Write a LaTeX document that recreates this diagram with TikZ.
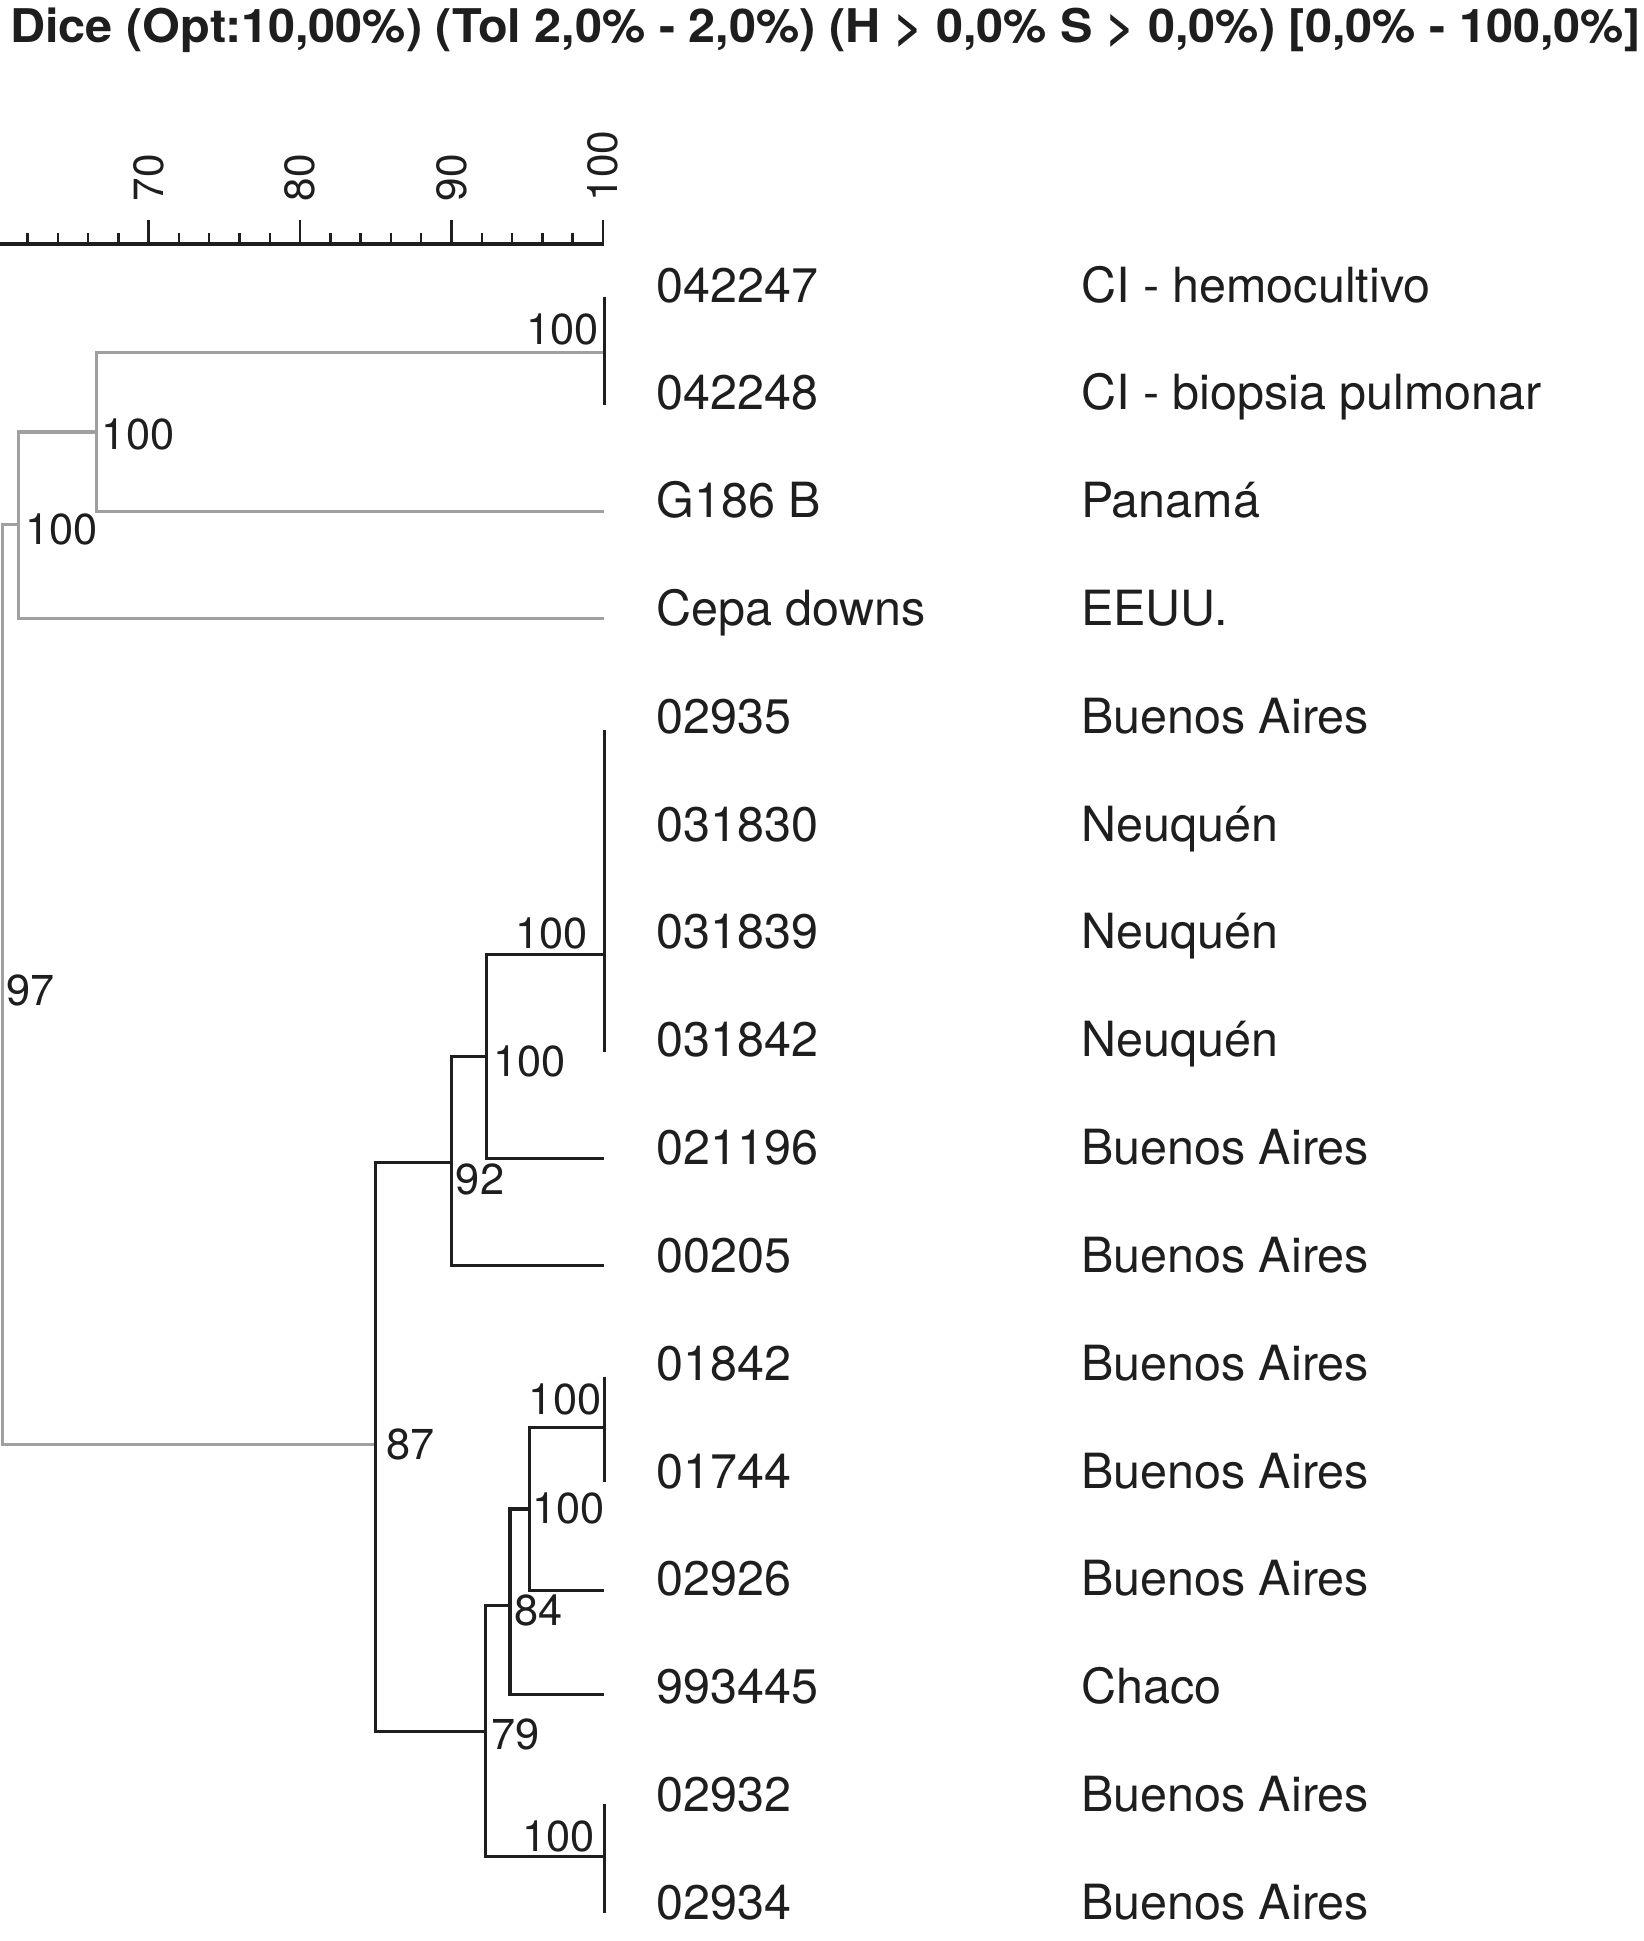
\documentclass[tikz,border=0pt]{standalone}
\usepackage{fontspec}
\setmainfont{TeX Gyre Heros}
\usepackage{graphicx}
\definecolor{treegray}{RGB}{160,160,160}
\definecolor{ink}{RGB}{30,30,30}
\begin{document}
\begin{tikzpicture}[x=0.6pt,y=-0.6pt,
  edge/.style={line width=1.5pt, draw=ink},
  gedge/.style={line width=1.5pt, draw=treegray},
  leaf/.style={anchor=base west, inner sep=0pt, font=\fontsize{23.5}{28}\selectfont, text=ink},
  boot/.style={inner sep=0pt, font=\fontsize{21}{25}\selectfont, text=ink},
  ticklab/.style={rotate=90, anchor=west, inner sep=0pt, font=\fontsize{20.5}{24}\selectfont, text=ink},
  axisline/.style={line width=1.6pt, draw=ink},
  tickline/.style={line width=1.2pt, draw=ink}]

\useasboundingbox (0,0) rectangle (1328,1568);

% title
\node[anchor=base west, inner sep=0pt, text=ink] (title) at (8,34)
  {\resizebox{790pt}{\height}{\fontsize{22.5}{27}\selectfont\bfseries Dice (Opt:10,00\%) (Tol 2,0\% - 2,0\%) (H > 0,0\% S > 0,0\%) [0,0\% - 100,0\%]}};

% scale axis
\coordinate (ax0) at (0,197);
\coordinate (ax1) at (488,197);
\draw[axisline] (ax0) -- (ax1);
\foreach \v in {62,64,66,68,72,74,76,78,82,84,86,88,92,94,96,98}
  \draw[tickline] ({487-(100-\v)*12.23},197) -- ++(0,-9);
\foreach \v in {70,80,90,100}{
  \draw[tickline] ({487-(100-\v)*12.23},197) -- ++(0,-19);
  \node[ticklab] (t\v) at ({487-(100-\v)*12.23},163) {\v};
}

% leaf labels
\foreach \i/\id/\place in {0/042247/CI - hemocultivo, 1/042248/CI - biopsia pulmonar,
  2/G186 B/Panamá, 3/Cepa downs/EEUU., 4/02935/Buenos Aires, 5/031830/Neuquén,
  6/031839/Neuquén, 7/031842/Neuquén, 8/021196/Buenos Aires, 9/00205/Buenos Aires,
  10/01842/Buenos Aires, 11/01744/Buenos Aires, 12/02926/Buenos Aires,
  13/993445/Chaco, 14/02932/Buenos Aires, 15/02934/Buenos Aires}{
  \node[leaf] (id\i) at (530,{244+87.1*\i}) {\id};
  \node[leaf] (pl\i) at (873,{244+87.1*\i}) {\place};
}

% tree coordinates
\coordinate (a1t) at (488,240); \coordinate (a1b) at (488,327); \coordinate (a1) at (488,285);
\coordinate (a2) at (78,349);   \coordinate (lg186) at (488,413);
\coordinate (a3) at (15,424);   \coordinate (lcepa) at (488,500);
\coordinate (r) at (2,796);
\coordinate (b1t) at (488,590); \coordinate (b1b) at (488,850); \coordinate (b1) at (488,771);
\coordinate (b2) at (393,853.5); \coordinate (l021196) at (488,936);
\coordinate (b3) at (365,939);  \coordinate (l00205) at (488,1022);
\coordinate (b4) at (303,1167);
\coordinate (c1t) at (488,1112); \coordinate (c1b) at (488,1197); \coordinate (c1) at (488,1153);
\coordinate (c2) at (428,1219); \coordinate (l02926) at (488,1285);
\coordinate (c3) at (412,1297); \coordinate (lchaco) at (488,1369);
\coordinate (c4) at (392,1399);
\coordinate (c5t) at (488,1457); \coordinate (c5b) at (488,1545); \coordinate (c5) at (488,1500);

% gray cluster
\draw[gedge] (a1) -| (a2) |- (lg186);
\draw[gedge] (a2) -| (a3) |- (lcepa);
\draw[gedge] (a3) -| (r) |- (b4);
\draw[edge] (a1t) -- (a1b);

% black cluster
\draw[edge] (b1t) -- (b1b);
\draw[edge] (b1) -| (b2) |- (l021196);
\draw[edge] (b2) -| (b3) |- (l00205);
\draw[edge] (b3) -| (b4) |- (c4);
\draw[edge] (c1t) -- (c1b);
\draw[edge] (c1) -| (c2) |- (l02926);
\draw[edge] (c2) -| (c3) |- (lchaco);
\draw[edge] (c3) -| (c4) |- (c5);
\draw[edge] (c5t) -- (c5b);

% node values
\node[boot, anchor=base east] (v1) at (484,278) {100};
\node[boot, anchor=base west] (v2) at (82,363) {100};
\node[boot, anchor=base west] (v3) at (20,440) {100};
\node[boot, anchor=base west] (v4) at (5,812) {97};
\node[boot, anchor=base east] (v5) at (475,766) {100};
\node[boot, anchor=base west] (v6) at (398,870) {100};
\node[boot, anchor=base west] (v7) at (368,965) {92};
\node[boot, anchor=base west] (v8) at (312,1179) {87};
\node[boot, anchor=base east] (v9) at (486,1143) {100};
\node[boot, anchor=base west] (v10) at (430,1231) {100};
\node[boot, anchor=base west] (v11) at (415,1313) {84};
\node[boot, anchor=base west] (v12) at (397,1413) {79};
\node[boot, anchor=base east] (v13) at (481,1496) {100};
\end{tikzpicture}
\end{document}
